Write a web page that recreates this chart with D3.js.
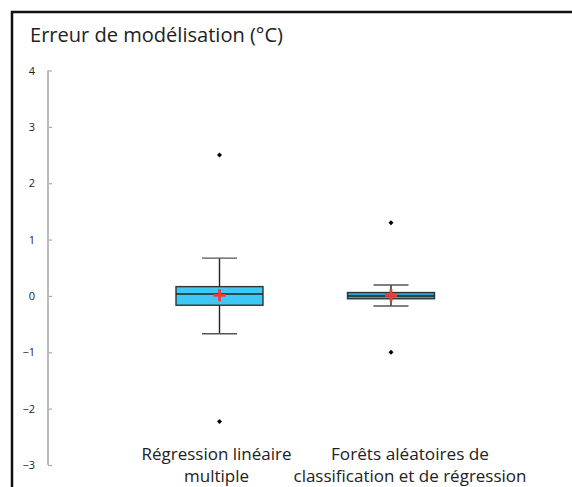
<!DOCTYPE html>
<html><head><meta charset="utf-8">
<script src="https://cdn.jsdelivr.net/npm/d3@7"></script>
<style>body{margin:0;background:#fff;}svg{display:block;}</style>
</head><body>
<svg id="c" width="572" height="487"></svg>
<script>
const title = "Erreur de modélisation (°C)";
const categories = ["Régression linéaire multiple", "Forêts aléatoires de classification et de régression"];
const labelLines = [["Régression linéaire", "multiple"], ["Forêts aléatoires de", "classification et de régression"]];
const q1 = [-0.165, -0.05];
const median = [0.035, 0.0];
const q3 = [0.165, 0.06];
const whiskerLow = [-0.67, -0.18];
const whiskerHigh = [0.67, 0.195];
const means = [0.01, 0.01];
const outliers = [[2.5, -2.23], [1.3, -1.0]];
const yTicks = [-3, -2, -1, 0, 1, 2, 3, 4];

const svg = d3.select("#c");
const font = "'Open Sans', Lato, sans-serif";

// frame
svg.append("path").attr("d", "M12,487 L12,12 L572,12").attr("fill", "none")
  .attr("stroke", "#111").attr("stroke-width", 2.5);

svg.append("text").attr("x", 30).attr("y", 42).text(title)
  .attr("font-family", font).attr("font-size", 20).attr("fill", "#222")
  .attr("textLength", 253).attr("lengthAdjust", "spacingAndGlyphs");

const y = d3.scaleLinear().domain([-3, 4]).range([465, 70.5]);
const x = d3.scalePoint().domain(categories).range([219.5, 391]);

const axis = svg.append("g").attr("transform", "translate(48,0)")
  .call(d3.axisLeft(y).tickValues(yTicks).tickSize(4).tickPadding(9).tickFormat(d3.format("d")));
axis.select(".domain").remove();
axis.selectAll(".tick line").attr("stroke", "#aaa").attr("stroke-width", 1.2).attr("x2", 4);
axis.selectAll(".tick text").attr("font-family", font).attr("font-size", 11).attr("fill", "#222");
axis.append("line").attr("y1", y(-3)).attr("y2", y(4)).attr("stroke", "#bbb").attr("stroke-width", 2);

const boxW = 87, capW = 35;
categories.forEach((c, i) => {
  const cx = x(c);
  const g = svg.append("g");
  g.append("line").attr("x1", cx).attr("x2", cx).attr("y1", y(whiskerHigh[i])).attr("y2", y(whiskerLow[i]))
    .attr("stroke", "#222").attr("stroke-width", 1.4);
  [whiskerHigh[i], whiskerLow[i]].forEach(v => {
    g.append("line").attr("x1", cx - capW / 2).attr("x2", cx + capW / 2).attr("y1", y(v)).attr("y2", y(v))
      .attr("stroke", "#555").attr("stroke-width", 1.4);
  });
  g.append("rect").attr("x", cx - boxW / 2).attr("width", boxW)
    .attr("y", y(q3[i])).attr("height", y(q1[i]) - y(q3[i]))
    .attr("fill", i === 0 ? "#3cc9f5" : "#2ea7d0").attr("stroke", "#333").attr("stroke-width", 1.4);
  g.append("line").attr("x1", cx - boxW / 2).attr("x2", cx + boxW / 2).attr("y1", y(median[i])).attr("y2", y(median[i]))
    .attr("stroke", "#222").attr("stroke-width", 1.4);
  // mean cross
  const my = y(means[i]);
  g.append("path").attr("d", `M${cx - 6},${my} L${cx + 6},${my} M${cx},${my - 6} L${cx},${my + 6}`)
    .attr("stroke", "#f23a3a").attr("stroke-width", 2.8);
  outliers[i].forEach(v => {
    g.append("path").attr("transform", `translate(${cx},${y(v)})`)
      .attr("d", d3.symbol(d3.symbolDiamond2, 16)()).attr("fill", "#000");
  });
  const offs = [-3, 19];
  const widths = [[150, 65], [158, 233]];
  labelLines[i].forEach((t, k) => {
    svg.append("text").attr("x", cx + offs[i]).attr("y", 460 + k * 22).attr("text-anchor", "middle")
      .attr("font-family", font).attr("font-size", 16).attr("fill", "#222")
      .attr("textLength", widths[i][k]).attr("lengthAdjust", "spacingAndGlyphs").text(t);
  });
});
</script>
</body></html>
